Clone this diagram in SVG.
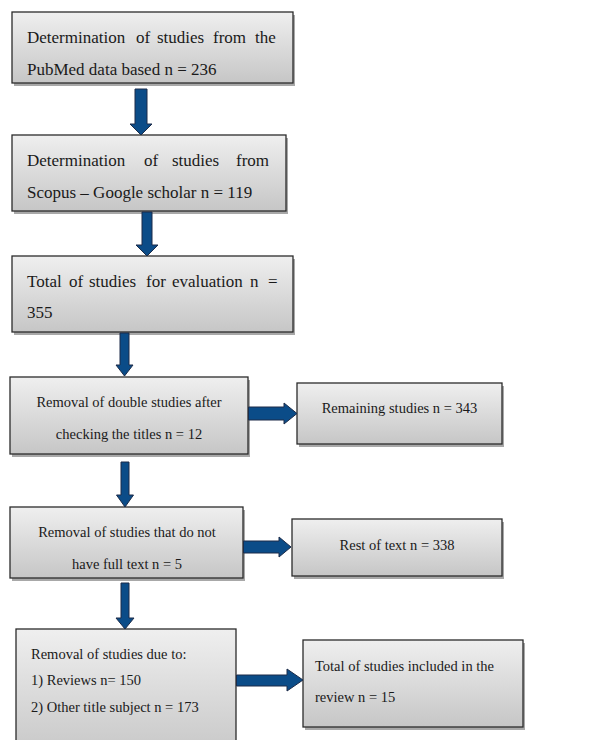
<svg xmlns="http://www.w3.org/2000/svg" width="614" height="740" viewBox="0 0 614 740">
<defs>
<linearGradient id="g" x1="0" y1="0" x2="0" y2="1">
<stop offset="0" stop-color="#efefef"/>
<stop offset="1" stop-color="#c6c6c6"/>
</linearGradient>
</defs>
<style>
.box{fill:url(#g);stroke:#2b2b2b;stroke-width:1.3}
.sh{fill:#a8a8a8}
.arr{fill:#0b4c88;stroke:#1c2b48;stroke-width:1}
text{font-family:"Liberation Serif","Times New Roman",serif;font-size:14.5px;fill:#1a1a1a}
.big{font-size:17px}
.c{text-anchor:middle}
</style>
<rect width="614" height="740" fill="#ffffff"/>
<g id="n1">
<rect class="sh" x="14" y="15" width="281" height="71"/>
<rect class="box" x="12" y="12" width="281" height="71"/>
<text class="big" y="43"><tspan x="27">Determination</tspan><tspan x="136">of</tspan><tspan x="157">studies</tspan><tspan x="213">from</tspan><tspan x="255">the</tspan></text>
<text class="big" x="27" y="75">PubMed data based n = 236</text>
</g>
<g id="n2">
<rect class="sh" x="14" y="138" width="274" height="76"/>
<rect class="box" x="12" y="135" width="274" height="76"/>
<text class="big" y="166"><tspan x="27">Determination</tspan><tspan x="144">of</tspan><tspan x="172">studies</tspan><tspan x="236">from</tspan></text>
<text class="big" x="27" y="198">Scopus – Google scholar n = 119</text>
</g>
<g id="n3">
<rect class="sh" x="14" y="259" width="281" height="76"/>
<rect class="box" x="12" y="256" width="281" height="76"/>
<text class="big" y="287"><tspan x="27">Total</tspan><tspan x="69">of</tspan><tspan x="89">studies</tspan><tspan x="146">for</tspan><tspan x="172">evaluation</tspan><tspan x="250">n</tspan><tspan x="268">=</tspan></text>
<text class="big" x="27" y="318">355</text>
</g>
<g id="n4">
<rect class="sh" x="12" y="380" width="238" height="77"/>
<rect class="box" x="10" y="377" width="238" height="77"/>
<text class="c" x="129" y="407">Removal of double studies after</text>
<text class="c" x="129" y="439">checking the titles n = 12</text>
</g>
<g id="n5">
<rect class="sh" x="299" y="386" width="205" height="61"/>
<rect class="box" x="297" y="383" width="205" height="61"/>
<text class="c" x="399.5" y="413">Remaining studies n = 343</text>
</g>
<g id="n6">
<rect class="sh" x="12" y="510" width="233" height="71"/>
<rect class="box" x="10" y="507" width="233" height="71"/>
<text class="c" x="127" y="537">Removal of studies that do not</text>
<text class="c" x="127" y="569">have full text n = 5</text>
</g>
<g id="n7">
<rect class="sh" x="294" y="522" width="210" height="57"/>
<rect class="box" x="292" y="519" width="210" height="57"/>
<text class="c" x="397" y="550">Rest of text n = 338</text>
</g>
<g id="n8">
<rect class="box" x="16" y="629" width="220" height="130"/>
<text x="31" y="659">Removal of studies due to:</text>
<text x="31" y="685">1) Reviews n= 150</text>
<text x="31" y="712">2) Other title subject n = 173</text>
</g>
<g id="n9">
<rect class="sh" x="305" y="643" width="220" height="87"/>
<rect class="box" x="303" y="640" width="220" height="87"/>
<text x="315" y="671">Total of studies included in the</text>
<text x="315" y="702">review n = 15</text>
</g>
<g id="connectors">
<polygon class="arr" points="135,89 147,89 147,124 152,124 141,135 130,124 135,124"/>
<polygon class="arr" points="142,212 152,212 152,245 158,245 147,256 136,245 142,245"/>
<polygon class="arr" points="120,333 129,333 129,365 133,365 124.5,376 116,365 120,365"/>
<polygon class="arr" points="248.5,407 284,407 284,403 297,413.5 284,424 284,420 248.5,420"/>
<polygon class="arr" points="121,462 129,462 129,495 133.5,495 125,507 116.5,495 121,495"/>
<polygon class="arr" points="243.5,541 279,541 279,537 291,547 279,557 279,553 243.5,553"/>
<polygon class="arr" points="121,583 129,583 129,618 134,618 125,629 116,618 121,618"/>
<polygon class="arr" points="236.5,675 287,675 287,669 303,680 287,691 287,686 236.5,686"/>
</g>
</svg>
